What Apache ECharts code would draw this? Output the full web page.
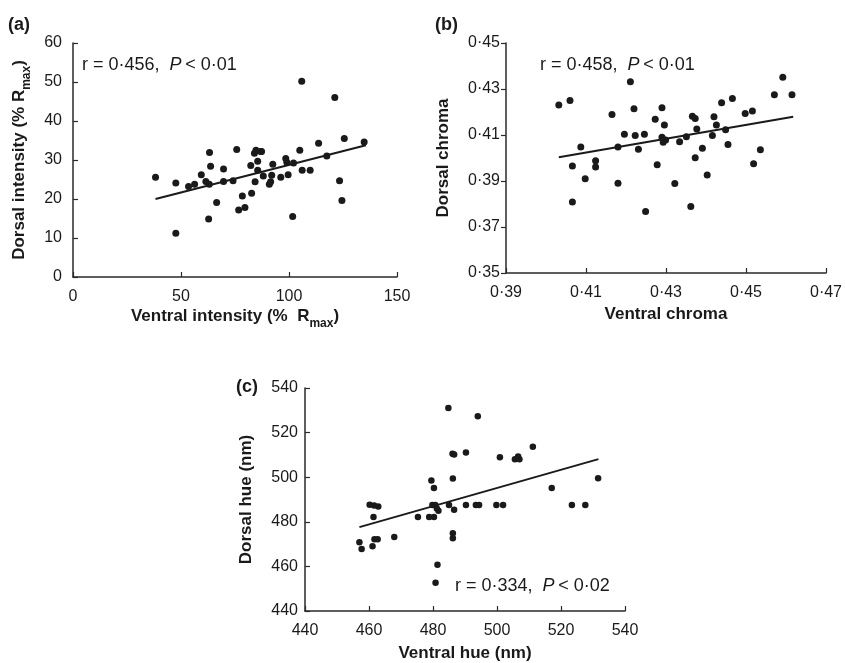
<!DOCTYPE html>
<html>
<head>
<meta charset="utf-8">
<script src="https://cdn.jsdelivr.net/npm/echarts@6/dist/echarts.min.js"></script>
<style>
html,body{margin:0;padding:0;background:#fff;}
#chart{width:845px;height:663px;}
</style>
</head>
<body>
<div id="chart"></div>
<script>
// ---------- data ----------
const ventralIntensity = [38.2,47.6,47.6,53.5,56.3,59.4,61.5,63.1,63.2,63.7,62.8,66.5,69.7,69.7,74.1,75.8,76.7,78.4,79.6,82.3,82.7,84.0,84.7,84.3,85.5,85.5,86.9,87.3,88.1,90.9,91.5,92.5,92.0,96.2,98.5,99.0,99.6,102.1,101.7,105.0,105.9,106.1,109.8,113.7,117.5,121.2,123.4,124.5,125.6,134.8];
const dorsalIntensity  = [25.6,24.1,11.2,23.2,23.8,26.2,24.5,23.8,31.9,28.4,14.9,19.1,27.7,24.5,24.7,32.7,17.2,20.8,17.8,28.6,21.5,31.7,32.5,24.4,29.7,27.4,32.2,32.2,25.9,23.8,24.4,28.9,26.1,25.6,30.4,29.4,26.2,29.2,15.5,32.5,50.2,27.4,27.4,34.3,31.0,46.0,24.7,19.6,35.5,34.6];
const fitIntensityX = [38.2,135.6];
const fitIntensityY = [20.0,33.8];

const ventralChroma = [0.4032,0.4060,0.4066,0.4066,0.4087,0.4098,0.4124,0.4124,0.4165,0.4180,0.4180,0.4196,0.4211,0.4220,0.4223,0.4231,0.4246,0.4249,0.4273,0.4278,0.4290,0.4290,0.4293,0.4296,0.4299,0.4322,0.4334,0.4351,0.4362,0.4366,0.4373,0.4373,0.4377,0.4391,0.4403,0.4416,0.4420,0.4426,0.4439,0.4449,0.4455,0.4466,0.4498,0.4516,0.4519,0.4536,0.4571,0.4592,0.4615];
const dorsalChroma  = [0.4230,0.4250,0.3965,0.3809,0.4048,0.3910,0.3988,0.3961,0.4189,0.4048,0.3890,0.4103,0.4331,0.4214,0.4098,0.4038,0.4103,0.3767,0.4169,0.3971,0.4218,0.4090,0.4068,0.4143,0.4078,0.3889,0.4071,0.4092,0.3789,0.4181,0.4172,0.4001,0.4126,0.4042,0.3926,0.4098,0.4179,0.4143,0.4240,0.4123,0.4059,0.4259,0.4194,0.4204,0.3975,0.4036,0.4275,0.4351,0.4275];
const fitChromaX = [0.4032,0.4618];
const fitChromaY = [0.4003,0.4179];

const ventralHue = [457.0,457.7,460.2,461.1,461.4,461.6,461.7,462.7,462.9,467.9,475.3,479.5,478.8,480.3,480.3,479.8,480.7,481.2,481.4,480.8,481.7,484.8,485.0,486.1,486.6,486.2,486.2,486.2,486.6,490.3,490.3,494.0,493.4,494.4,499.8,501.9,500.9,505.6,506.6,507.0,511.2,517.1,523.4,527.6,531.6];
const dorsalHue  = [470.8,467.8,487.6,469.0,482.2,487.3,472.2,472.2,486.9,473.2,482.2,498.5,482.2,482.2,495.2,487.5,487.5,486.0,460.7,452.7,484.9,531.0,487.5,510.5,510.2,499.4,474.9,472.6,485.4,511.1,487.5,527.3,487.5,487.5,487.5,487.5,508.9,508.0,509.3,508.0,513.7,495.2,487.5,487.5,499.5];
const fitHueX = [457.0,531.7];
const fitHueY = [477.6,508.1];

const intensityXTicks = [0,50,100,150];
const intensityYTicks = [0,10,20,30,40,50,60];
const chromaXTicks = [0.39,0.41,0.43,0.45,0.47];
const chromaYTicks = [0.35,0.37,0.39,0.41,0.43,0.45];
const hueTicks = [440,460,480,500,520,540];

// ---------- helpers ----------
const FONT = "'Liberation Sans', Arial, Helvetica, sans-serif";
const INK = '#1a1a1a';
const AXIS = '#2a2a2a';
const pairs = (xs, ys) => xs.map((x, i) => [x, ys[i]]);
const dot = v => v.toFixed(2).replace('.', '\u00b7');

function axis(gridIndex, ticks, opts) {
  return Object.assign({
    gridIndex: gridIndex,
    type: 'value',
    min: ticks[0],
    max: ticks[ticks.length - 1],
    interval: +(ticks[1] - ticks[0]).toFixed(4),
    axisLine: { show: true, onZero: false, lineStyle: { color: AXIS, width: 1.5 } },
    axisTick: { show: true, inside: true, length: 5, lineStyle: { color: AXIS, width: 1.2 } },
    splitLine: { show: false },
    axisLabel: { color: INK, fontSize: 16, fontFamily: FONT, margin: 10 },
    nameLocation: 'middle',
    nameTextStyle: {
      rich: {
        b: { fontSize: 17, fontWeight: 'bold', fontFamily: FONT, color: INK, lineHeight: 22, verticalAlign: 'top' },
        s: { fontSize: 12, fontWeight: 'bold', fontFamily: FONT, color: INK, lineHeight: 22, verticalAlign: 'bottom' }
      }
    }
  }, opts);
}

const chart = echarts.init(document.getElementById('chart'), null, { renderer: 'canvas' });

const dotStyle = { color: INK, opacity: 1 };
const annRich = {
  n: { fontSize: 18, fontFamily: FONT, fill: INK },
  i: { fontSize: 18, fontFamily: FONT, fontStyle: 'italic', fill: INK }
};

const option = {
  backgroundColor: '#ffffff',
  animation: false,
  grid: [
    { left: 73, top: 43, width: 324, height: 234 },
    { left: 506, top: 43, width: 322, height: 230 },
    { left: 305, top: 388, width: 320, height: 223 }
  ],
  xAxis: [
    axis(0, intensityXTicks, { name: '{b|Ventral intensity (%  R}{s|max}{b|)}', nameGap: 31, axisLabel: { color: INK, fontSize: 16, fontFamily: FONT, margin: 12 } }),
    axis(1, chromaXTicks, { name: '{b|Ventral chroma}', nameGap: 33, axisLabel: { color: INK, fontSize: 16, fontFamily: FONT, margin: 12, formatter: dot } }),
    axis(2, hueTicks, { name: '{b|Ventral hue (nm)}', nameGap: 34, axisLabel: { color: INK, fontSize: 16, fontFamily: FONT, margin: 12 } })
  ],
  yAxis: [
    axis(0, intensityYTicks, { name: '{b|Dorsal intensity (% R}{s|max}{b|)}', nameGap: 40, axisLabel: { color: INK, fontSize: 16, fontFamily: FONT, margin: 11 } }),
    axis(1, chromaYTicks, { name: '{b|Dorsal chroma}', nameGap: 49, axisTick: { show: true, inside: false, length: 5, lineStyle: { color: AXIS, width: 1.2 } }, axisLabel: { color: INK, fontSize: 16, fontFamily: FONT, margin: 6, formatter: dot } }),
    axis(2, hueTicks, { name: '{b|Dorsal hue (nm)}', nameGap: 45, axisLabel: { color: INK, fontSize: 16, fontFamily: FONT, margin: 7 } })
  ],
  series: [
    { type: 'scatter', xAxisIndex: 0, yAxisIndex: 0, symbolSize: 7, itemStyle: dotStyle, data: pairs(ventralIntensity, dorsalIntensity) },
    { type: 'line', xAxisIndex: 0, yAxisIndex: 0, showSymbol: false, silent: true, lineStyle: { color: INK, width: 2 }, data: pairs(fitIntensityX, fitIntensityY) },
    { type: 'scatter', xAxisIndex: 1, yAxisIndex: 1, symbolSize: 7, itemStyle: dotStyle, data: pairs(ventralChroma, dorsalChroma) },
    { type: 'line', xAxisIndex: 1, yAxisIndex: 1, showSymbol: false, silent: true, lineStyle: { color: INK, width: 2 }, data: pairs(fitChromaX, fitChromaY) },
    { type: 'scatter', xAxisIndex: 2, yAxisIndex: 2, symbolSize: 6.5, itemStyle: dotStyle, data: pairs(ventralHue, dorsalHue) },
    { type: 'line', xAxisIndex: 2, yAxisIndex: 2, showSymbol: false, silent: true, lineStyle: { color: INK, width: 2 }, data: pairs(fitHueX, fitHueY) }
  ],
  graphic: [
    { type: 'text', left: 8, top: 16, style: { text: '(a)', font: "bold 18px " + FONT, fill: INK } },
    { type: 'text', left: 435, top: 16, style: { text: '(b)', font: "bold 18px " + FONT, fill: INK } },
    { type: 'text', left: 236, top: 378, style: { text: '(c)', font: "bold 18px " + FONT, fill: INK } },
    { type: 'text', left: 82, top: 56, style: { text: '{n|r = 0\u00b7456,  }{i|P}{n|\u2009< 0\u00b701}', rich: annRich } },
    { type: 'text', left: 540, top: 56, style: { text: '{n|r = 0\u00b7458,  }{i|P}{n|\u2009< 0\u00b701}', rich: annRich } },
    { type: 'text', left: 455, top: 577, style: { text: '{n|r = 0\u00b7334,  }{i|P}{n|\u2009< 0\u00b702}', rich: annRich } }
  ]
};
chart.setOption(option);
</script>
</body>
</html>
